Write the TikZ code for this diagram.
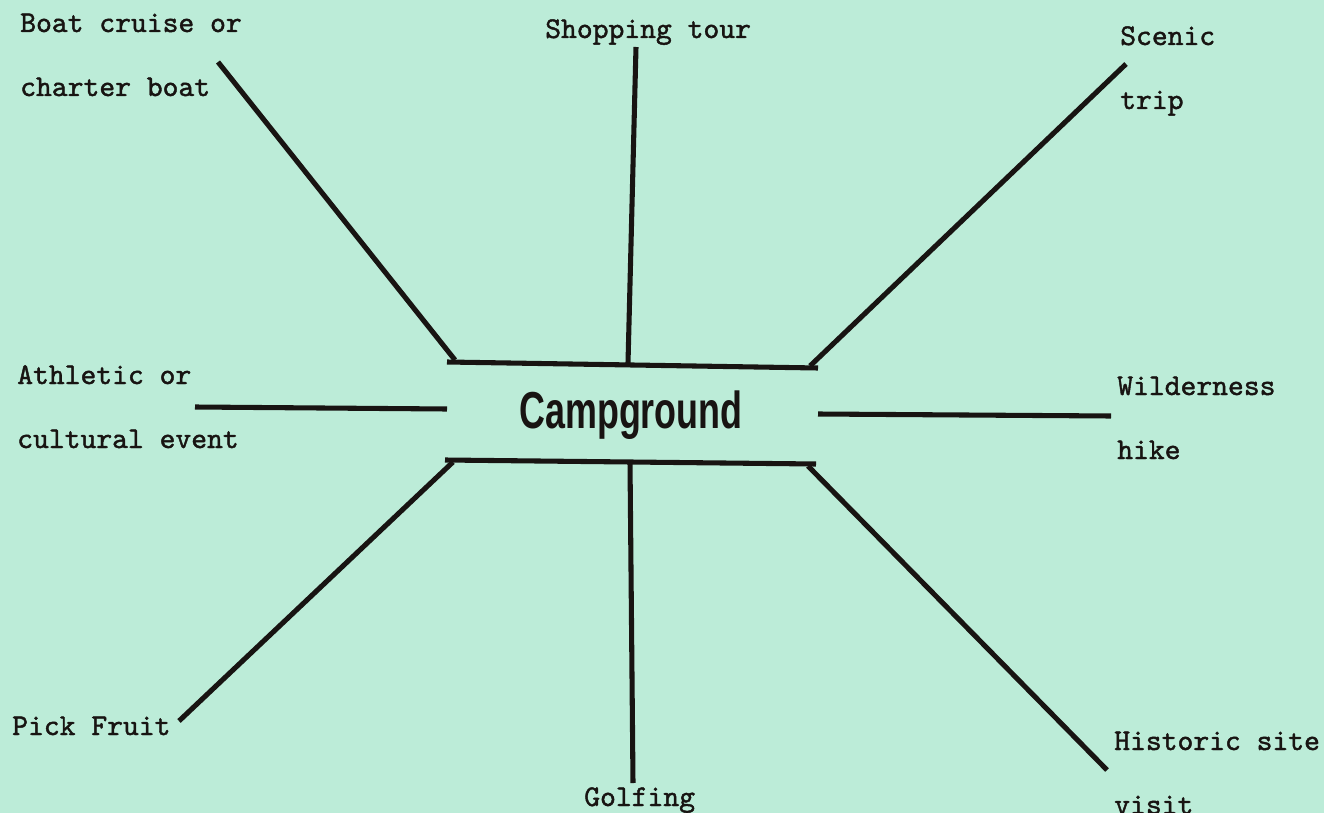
\documentclass[tikz,border=0pt]{standalone}
\usepackage{fontspec}
\setmonofont{lmmono10-regular.otf}[FakeBold=1.4]
\newfontfamily\headfont{Liberation Sans}
\definecolor{paper}{RGB}{188,236,216}
\definecolor{ink}{RGB}{24,20,18}
\begin{document}
\begin{tikzpicture}[x=0.75pt,y=-0.75pt,
  spoke/.style={draw=ink,line width=3.8pt},
  lbl/.style={anchor=base west,inner sep=0pt,text=ink,
    font=\ttfamily\fontsize{22.6}{48}\selectfont},
  hub/.style={anchor=base,inner sep=0pt,text=ink,
    font=\headfont\bfseries\fontsize{39}{44}\selectfont}]
\fill[paper] (0,0) rectangle (1324,813);
\useasboundingbox (0,0) rectangle (1324,813);

% centre
\node[hub] (camp) at (631,428) {\scalebox{0.69}[1]{Campground}};

% frame and spoke end points
\coordinate (tl) at (447,362);
\coordinate (tr) at (818,368);
\coordinate (bl) at (445,460);
\coordinate (br) at (816,464);
\coordinate (tm) at (628,363);
\coordinate (bm) at (630,462);
\coordinate (tlx) at (455,360);
\coordinate (trx) at (810,366);
\coordinate (blx) at (453,462);
\coordinate (brx) at (808,466);
\coordinate (ml) at (447,409);
\coordinate (mr) at (818,414);

\coordinate (eboat) at (218,62);
\coordinate (eshop) at (636,47);
\coordinate (escen) at (1126,64);
\coordinate (eath) at (195,407);
\coordinate (ewild) at (1111,416);
\coordinate (efruit) at (179,721);
\coordinate (egolf) at (633,783);
\coordinate (ehist) at (1107,770);

% labels
\node[lbl] (boat) at (20,32) {\begin{tabular}[t]{@{}l@{}}Boat cruise or\\charter boat\end{tabular}};
\node[lbl] (shop) at (545,38) {Shopping tour};
\node[lbl] (scen) at (1120,45) {\begin{tabular}[t]{@{}l@{}}Scenic\\trip\end{tabular}};
\node[lbl] (ath) at (17,384) {\begin{tabular}[t]{@{}l@{}}Athletic or\\cultural event\end{tabular}};
\node[lbl] (wild) at (1117,395) {\begin{tabular}[t]{@{}l@{}}Wilderness\\hike\end{tabular}};
\node[lbl] (fruit) at (12,735) {Pick Fruit};
\node[lbl] (golf) at (584,806) {Golfing};
\node[lbl] (hist) at (1114,750) {\begin{tabular}[t]{@{}l@{}}Historic site\\visit\end{tabular}};

% frame
\draw[spoke] (tl) -- (tr);
\draw[spoke] (bl) -- (br);

% spokes
\draw[spoke] (tlx) -- (eboat);
\draw[spoke] (tm) -- (eshop);
\draw[spoke] (trx) -- (escen);
\draw[spoke] (ml) -- (eath);
\draw[spoke] (mr) -- (ewild);
\draw[spoke] (blx) -- (efruit);
\draw[spoke] (bm) -- (egolf);
\draw[spoke] (brx) -- (ehist);
\end{tikzpicture}
\end{document}
